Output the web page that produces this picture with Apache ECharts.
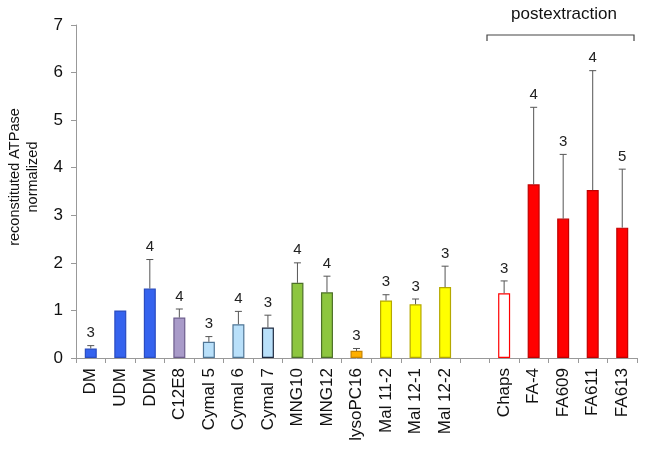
<!DOCTYPE html>
<html>
<head>
<meta charset="utf-8">
<script src="https://cdn.jsdelivr.net/npm/echarts@6/dist/echarts.min.js"></script>
<style>html,body{margin:0;padding:0;background:#fff;}#c{width:645px;height:449px;}</style>
</head>
<body>
<div id="c"></div>
<script>
var categories = ['DM','UDM','DDM','C12E8','Cymal 5','Cymal 6','Cymal 7','MNG10','MNG12','lysoPC16','Mal 11-2','Mal 12-1','Mal 12-2','','Chaps','FA-4','FA609','FA611','FA613'];
var values = [0.2,1.0,1.46,0.85,0.34,0.71,0.64,1.58,1.38,0.15,1.21,1.13,1.49,null,1.36,3.65,2.93,3.53,2.74];
var errors = [0.06,0,0.61,0.18,0.11,0.27,0.26,0.42,0.34,0.05,0.12,0.11,0.44,null,0.26,1.62,1.35,2.51,1.23];
var nLabels = ['3','','4','4','3','4','3','4','4','3','3','3','3','','3','4','3','4','5'];
var yTicks = [0,1,2,3,4,5,6,7];
var fills = ['#3563ee','#3563ee','#3563ee','#a99bc9','#b9e0fa','#b9e0fa','#b9e0fa','#8dc63f','#8dc63f','#ffb000','#ffff00','#ffff00','#ffff00','#fff','#ffffff','#ff0000','#ff0000','#ff0000','#ff0000'];
var borders = ['#2a4cc0','#2a4cc0','#2a4cc0','#6d5d8d','#4f7595','#4f7595','#1e2a40','#4d7028','#4d7028','#c88400','#b5a800','#b5a800','#b5a800','#fff','#ff0000','#c00000','#c00000','#c00000','#c00000'];

var FONT = 'Liberation Sans, Arial, sans-serif';
var chart = echarts.init(document.getElementById('c'), null, {renderer:'canvas'});
var barData = values.map(function(v,i){
  return {value: v, itemStyle: {color: fills[i], borderColor: borders[i], borderWidth: 1.2}};
});
var errData = values.map(function(v,i){ return [i, v, v==null?null:v+errors[i], nLabels[i]]; });

chart.setOption({
  animation: false,
  backgroundColor: '#fff',
  grid: {left: 76, right: 8, top: 25, bottom: 91, containLabel: false},
  xAxis: {
    type: 'category', data: categories,
    axisLine: {lineStyle: {color: '#999', width: 1}},
    axisTick: {show: true, alignWithLabel: false, length: 5, lineStyle: {color: '#999'}},
    axisLabel: {rotate: 90, fontFamily: FONT, fontSize: 17, color: '#111', margin: 10, interval: 0}
  },
  yAxis: {
    type: 'value', min: 0, max: 7, interval: 1,
    axisLine: {show: true, lineStyle: {color: '#999', width: 1}},
    axisTick: {show: true, length: 5, lineStyle: {color: '#999'}},
    splitLine: {show: false},
    axisLabel: {fontFamily: FONT, fontSize: 17, color: '#111', margin: 13,
      formatter: function(v){ return yTicks.indexOf(v) >= 0 ? String(v) : ''; }}
  },
  series: [
    {type: 'bar', data: barData, barWidth: 12, silent: true},
    {type: 'custom', data: errData, silent: true, z: 5,
      renderItem: function(params, api){
        var v = api.value(1), t = api.value(2);
        if (v == null || isNaN(v) || t == null || isNaN(t)) return;
        var idx = api.value(0);
        var base = api.coord([idx, v]);
        var top = api.coord([idx, t]);
        var children = [];
        if (t > v) {
          children.push({type:'line', shape:{x1:base[0], y1:base[1], x2:top[0], y2:top[1]}, style:{stroke:'#555', lineWidth:1}});
          children.push({type:'line', shape:{x1:top[0]-3.5, y1:top[1], x2:top[0]+3.5, y2:top[1]}, style:{stroke:'#555', lineWidth:1}});
        }
        var lab = nLabels[idx];
        if (lab) {
          children.push({type:'text', x: top[0], y: top[1]-5, style:{text: lab, textAlign:'center', textVerticalAlign:'bottom', fontSize: 15, fontFamily: FONT, fill:'#222'}});
        }
        return {type:'group', children: children};
      }
    }
  ],
  graphic: [
    {type:'group', children:[
      {type:'text', x: 24, y: 177, rotation: Math.PI/2,
        style:{text:'reconstituted ATPase\nnormalized', textAlign:'center', textVerticalAlign:'middle', fontSize: 14.5, lineHeight: 18, fontFamily: FONT, fill:'#111'}},
      {type:'polyline', shape:{points:[[487,41],[487,35],[634,35],[634,41]]}, style:{stroke:'#444', lineWidth:1.2, fill:null}},
      {type:'text', x: 564, y: 14, style:{text:'postextraction', textAlign:'center', textVerticalAlign:'middle', fontSize: 17, fontFamily: FONT, fill:'#111'}}
    ]}
  ]
});
</script>
</body>
</html>
